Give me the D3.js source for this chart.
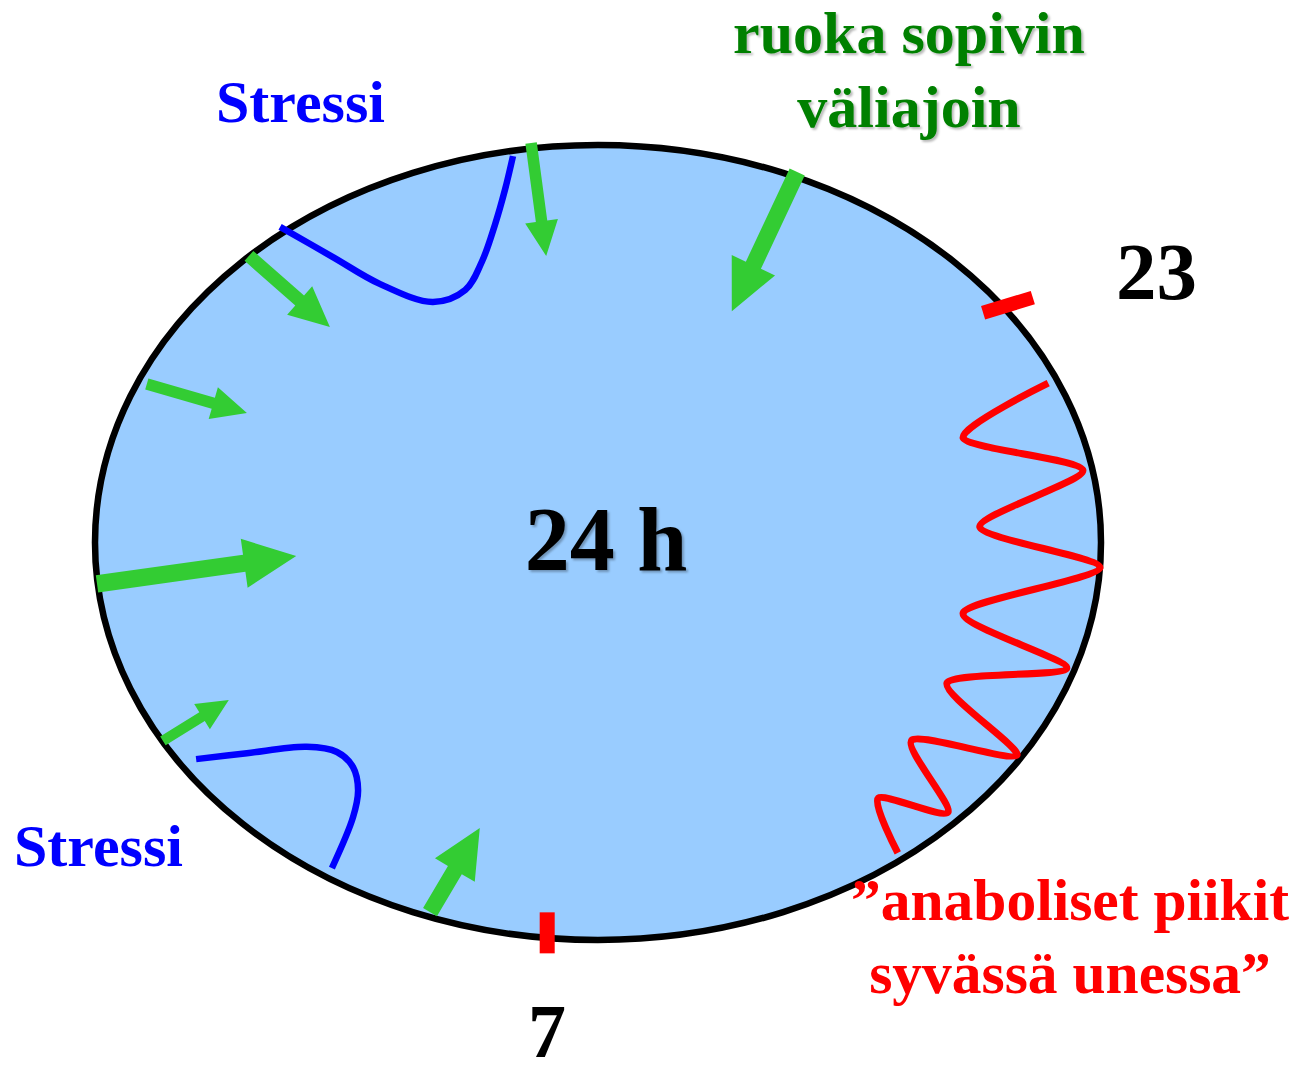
<!DOCTYPE html>
<html>
<head>
<meta charset="utf-8">
<script src="https://cdn.jsdelivr.net/npm/d3@7"></script>
<style>
  html, body { margin: 0; padding: 0; background: #ffffff; }
  svg { display: block; }
  text { font-family: "Liberation Serif", "Times New Roman", serif; font-weight: bold; }
</style>
</head>
<body>
<svg id="chart" width="1299" height="1074"></svg>
<script>
// ---------- DATA (normalized ellipse coordinates: u,v in [-1,1]) ----------
const centerLabel = "24 h";
const hourLabels = ["23", "7"];
const hourTicks = [ { u: 0.815, v: -0.597 }, { u: -0.101, v: 0.982 } ];

// meal arrows (tail -> tip) with relative meal size
const mealTailU = [-0.133, 0.396, -0.694, -0.897, -0.996, -0.865, -0.334];
const mealTailV = [-1.005, -0.932, -0.721, -0.399, 0.104, 0.499, 0.930];
const mealTipU  = [-0.103, 0.266, -0.533, -0.698, -0.600, -0.734, -0.235];
const mealTipV  = [-0.721, -0.582, -0.542, -0.326, 0.034, 0.396, 0.718];
const mealSize  = [1.0, 1.45, 1.15, 1.0, 1.5, 0.9, 1.4];

// stress responses
const stressTopU = [-0.632, -0.527, -0.433, -0.328, -0.264, -0.231, -0.205, -0.185, -0.169];
const stressTopV = [-0.794, -0.718, -0.650, -0.605, -0.635, -0.706, -0.799, -0.887, -0.972];
const stressBottomU = [-0.799, -0.698, -0.579, -0.519, -0.487, -0.477, -0.487, -0.529];
const stressBottomV = [0.545, 0.530, 0.514, 0.527, 0.565, 0.623, 0.691, 0.819];

// anabolic peaks in deep sleep
const peakU = [0.895, 0.726, 0.964, 0.759, 0.998, 0.726, 0.932, 0.694, 0.833, 0.624, 0.696, 0.557, 0.596];
const peakV = [-0.401, -0.263, -0.182, -0.039, 0.064, 0.177, 0.316, 0.353, 0.535, 0.497, 0.678, 0.643, 0.781];

const foodLabel = ["ruoka sopivin", "väliajoin"];
const stressLabel = "Stressi";
const sleepLabel = ["”anaboliset piikit", "syvässä unessa”"];

// ---------- LAYOUT ----------
const svg = d3.select("#chart");
const cx = 598, cy = 542.5, rx = 503, ry = 397.5;
const x = d3.scaleLinear().domain([-1, 1]).range([cx - rx, cx + rx]);
const y = d3.scaleLinear().domain([-1, 1]).range([cy - ry, cy + ry]);
const sizeScale = d3.scaleLinear().domain([0, 1]).range([0, 1]);

const defs = svg.append("defs");
const f = defs.append("filter").attr("id", "shadow").attr("x", "-10%").attr("y", "-10%").attr("width", "130%").attr("height", "140%");
f.append("feDropShadow").attr("dx", 2).attr("dy", 2).attr("stdDeviation", 1.2)
  .attr("flood-color", "#000").attr("flood-opacity", 0.28);

// ellipse clock face
svg.append("ellipse")
  .attr("cx", x(0)).attr("cy", y(0))
  .attr("rx", x(1) - x(0)).attr("ry", y(1) - y(0))
  .attr("fill", "#99ccff").attr("stroke", "#000").attr("stroke-width", 6.5);

// red hour ticks
const tickDims = [ { w: 52, h: 14, a: -17 }, { w: 15, h: 41, a: 0 } ];
svg.selectAll("rect.tick").data(hourTicks).join("rect")
  .attr("class", "tick")
  .attr("x", (d, i) => -tickDims[i].w / 2).attr("y", (d, i) => -tickDims[i].h / 2)
  .attr("width", (d, i) => tickDims[i].w).attr("height", (d, i) => tickDims[i].h)
  .attr("transform", (d, i) => `translate(${x(d.u)},${y(d.v)}) rotate(${tickDims[i].a})`)
  .attr("fill", "#ff0000");

// stress curves
const stressLine = d3.line().x(d => x(d[0])).y(d => y(d[1])).curve(d3.curveCatmullRom.alpha(0.5));
[[stressTopU, stressTopV], [stressBottomU, stressBottomV]].forEach(([us, vs]) => {
  svg.append("path")
    .attr("d", stressLine(us.map((u, i) => [u, vs[i]])))
    .attr("fill", "none").attr("stroke", "#0000ff").attr("stroke-width", 6.5);
});

// anabolic peaks
const peakLine = d3.line().x(d => x(d[0])).y(d => y(d[1])).curve(d3.curveCardinal.tension(0.25));
svg.append("path")
  .attr("d", peakLine(peakU.map((u, i) => [u, peakV[i]])))
  .attr("fill", "none").attr("stroke", "#ff0000").attr("stroke-width", 7)
  .attr("stroke-linejoin", "round");

// meal arrows
const arrowPoly = d3.line();
mealSize.forEach((s, i) => {
  const x0 = x(mealTailU[i]), y0 = y(mealTailV[i]);
  const x1 = x(mealTipU[i]), y1 = y(mealTipV[i]);
  const dx = x1 - x0, dy = y1 - y0, L = Math.hypot(dx, dy);
  const nx = dx / L, ny = dy / L, px = -ny, py = nx;
  const k = sizeScale(s);
  const sw = 11.5 * k / 2, hw = 33 * k / 2, hl = 35 * k;
  const bx = x1 - nx * hl, by = y1 - ny * hl;
  const pts = [
    [x0 + px * sw, y0 + py * sw],
    [bx + px * sw, by + py * sw],
    [bx + px * hw, by + py * hw],
    [x1, y1],
    [bx - px * hw, by - py * hw],
    [bx - px * sw, by - py * sw],
    [x0 - px * sw, y0 - py * sw]
  ];
  svg.append("path").attr("d", arrowPoly(pts) + "Z").attr("fill", "#33cc33");
});

// ---------- TEXT ----------
svg.append("text").attr("x", 606).attr("y", 570).attr("text-anchor", "middle")
  .attr("font-size", 90).attr("fill", "#000").attr("filter", "url(#shadow)").text(centerLabel);

svg.append("text").attr("x", 1116).attr("y", 299).attr("font-size", 81).attr("fill", "#000").text(hourLabels[0]);
svg.append("text").attr("x", 547).attr("y", 1057).attr("text-anchor", "middle")
  .attr("font-size", 76).attr("fill", "#000").text(hourLabels[1]);

foodLabel.forEach((t, i) => {
  svg.append("text").attr("x", 909).attr("y", 53 + i * 74).attr("text-anchor", "middle")
    .attr("font-size", 60).attr("fill", "#008000").attr("filter", "url(#shadow)").text(t);
});

svg.append("text").attr("x", 216).attr("y", 122).attr("font-size", 60).attr("fill", "#0000ff").text(stressLabel);
svg.append("text").attr("x", 14).attr("y", 866).attr("font-size", 60).attr("fill", "#0000ff").text(stressLabel);

sleepLabel.forEach((t, i) => {
  svg.append("text").attr("x", 1070).attr("y", 920 + i * 73).attr("text-anchor", "middle")
    .attr("font-size", 59.5).attr("fill", "#ff0000").text(t);
});
</script>
</body>
</html>
